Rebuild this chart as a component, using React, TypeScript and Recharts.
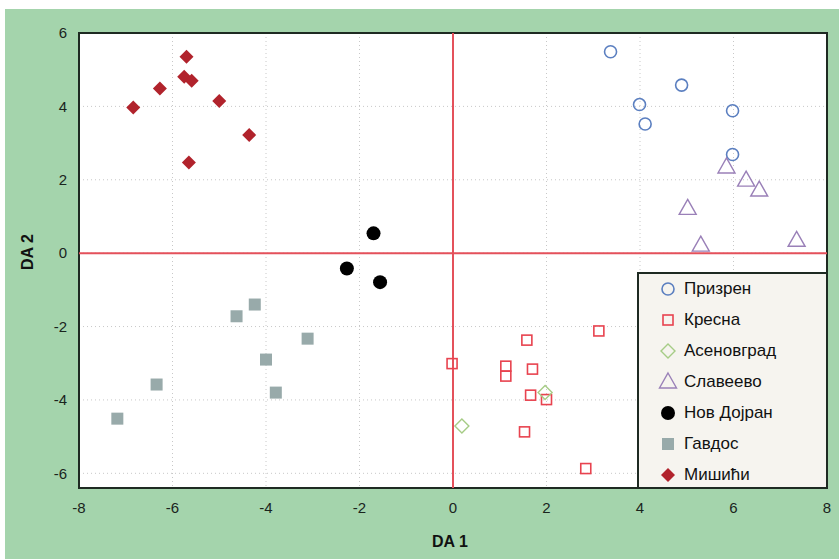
import React from 'react';
import {
  CartesianGrid,
  ReferenceArea,
  ReferenceLine,
  Scatter,
  ScatterChart,
  XAxis,
  YAxis,
} from 'recharts';

const xTicks = [-8, -6, -4, -2, 0, 2, 4, 6, 8];
const yTicks = [-6, -4, -2, 0, 2, 4, 6];

const prizren = [
  { x: 3.37, y: 5.49 },
  { x: 4.89, y: 4.58 },
  { x: 3.99, y: 4.05 },
  { x: 4.11, y: 3.52 },
  { x: 5.98, y: 3.88 },
  { x: 5.98, y: 2.69 },
];

const kresna = [
  { x: 3.12, y: -2.12 },
  { x: 1.58, y: -2.37 },
  { x: -0.02, y: -3.01 },
  { x: 1.13, y: -3.08 },
  { x: 1.13, y: -3.35 },
  { x: 1.7, y: -3.16 },
  { x: 1.66, y: -3.87 },
  { x: 2.0, y: -3.99 },
  { x: 1.53, y: -4.87 },
  { x: 2.84, y: -5.87 },
];

const asenovgrad = [
  { x: 1.97, y: -3.8 },
  { x: 0.19, y: -4.71 },
];

const slaveevo = [
  { x: 5.85, y: 2.35 },
  { x: 6.27, y: 1.99 },
  { x: 6.55, y: 1.72 },
  { x: 5.02, y: 1.22 },
  { x: 5.3, y: 0.22 },
  { x: 7.35, y: 0.35 },
];

const novDojran = [
  { x: -1.7, y: 0.54 },
  { x: -2.27, y: -0.42 },
  { x: -1.56, y: -0.79 },
];

const gavdos = [
  { x: -4.24, y: -1.4 },
  { x: -4.63, y: -1.72 },
  { x: -3.11, y: -2.33 },
  { x: -4.0, y: -2.9 },
  { x: -6.34, y: -3.58 },
  { x: -3.79, y: -3.8 },
  { x: -7.18, y: -4.51 },
];

const misici = [
  { x: -6.84, y: 3.97 },
  { x: -6.27, y: 4.49 },
  { x: -5.7, y: 5.35 },
  { x: -5.75, y: 4.81 },
  { x: -5.59, y: 4.7 },
  { x: -5.0, y: 4.15 },
  { x: -4.36, y: 3.22 },
  { x: -5.65, y: 2.47 },
];

type Kind = 'circle' | 'square' | 'diamond' | 'triangle' | 'dot' | 'block' | 'gem';

function mark(kind: Kind, color: string, cx: number, cy: number) {
  switch (kind) {
    case 'circle':
      return <circle cx={cx} cy={cy} r={6} fill="none" stroke={color} strokeWidth={1.6} />;
    case 'square':
      return <rect x={cx - 5} y={cy - 5} width={10} height={10} fill="none" stroke={color} strokeWidth={1.6} />;
    case 'diamond':
      return (
        <path d={`M${cx},${cy - 7}L${cx + 7},${cy}L${cx},${cy + 7}L${cx - 7},${cy}Z`} fill="none" stroke={color} strokeWidth={1.4} />
      );
    case 'triangle':
      return (
        <path d={`M${cx},${cy - 9}L${cx + 8.5},${cy + 6}L${cx - 8.5},${cy + 6}Z`} fill="none" stroke={color} strokeWidth={1.4} />
      );
    case 'dot':
      return <circle cx={cx} cy={cy} r={7} fill={color} />;
    case 'block':
      return <rect x={cx - 6} y={cy - 6} width={12} height={12} fill={color} />;
    case 'gem':
      return <path d={`M${cx},${cy - 7}L${cx + 7},${cy}L${cx},${cy + 7}L${cx - 7},${cy}Z`} fill={color} />;
  }
}

const groups: { name: string; data: { x: number; y: number }[]; kind: Kind; color: string }[] = [
  { name: 'Призрен', data: prizren, kind: 'circle', color: '#5b7fc0' },
  { name: 'Кресна', data: kresna, kind: 'square', color: '#e8434f' },
  { name: 'Асеновград', data: asenovgrad, kind: 'diamond', color: '#a6cc86' },
  { name: 'Славеево', data: slaveevo, kind: 'triangle', color: '#9a80b8' },
  { name: 'Нов Дојран', data: novDojran, kind: 'dot', color: '#000000' },
  { name: 'Гавдос', data: gavdos, kind: 'block', color: '#98aaaa' },
  { name: 'Мишићи', data: misici, kind: 'gem', color: '#b1232c' },
];

const font = '"Liberation Sans", Arial, sans-serif';

export default function App() {
  return (
    <div style={{ position: 'absolute', left: 0, top: 0, width: 839, height: 559, background: '#fff', fontFamily: font }}>
      <div style={{ position: 'absolute', left: 5, top: 9, width: 834, height: 550, background: '#a4d4ac' }} />
      <div style={{ position: 'absolute', left: 0, top: 0 }}>
        <ScatterChart width={839} height={559} margin={{ top: 33, right: 12, bottom: 41, left: 19 }}>
          <CartesianGrid fill="#ffffff" stroke="#c8c8c8" strokeDasharray="1 3" />
          <XAxis
            type="number"
            dataKey="x"
            domain={[-8, 8]}
            ticks={xTicks}
            height={30}
            axisLine={false}
            tickLine={false}
            tickSize={6}
            tickMargin={8}
            tick={{ fill: '#1a241d', fontSize: 15, fontFamily: font }}
          />
          <YAxis
            type="number"
            dataKey="y"
            domain={[-6.4, 6]}
            ticks={yTicks}
            width={60}
            axisLine={false}
            tickLine={false}
            tickSize={6}
            tickMargin={6}
            tick={{ fill: '#1a241d', fontSize: 15, fontFamily: font }}
          />
          <ReferenceLine x={0} stroke="#e4515b" strokeWidth={2} />
          <ReferenceLine y={0} stroke="#e4515b" strokeWidth={2} />
          {groups.map((g) => (
            <Scatter
              key={g.name}
              name={g.name}
              data={g.data}
              isAnimationActive={false}
              shape={(p: any) => mark(g.kind, g.color, p.cx, p.cy)}
            />
          ))}
          <ReferenceArea x1={-8} x2={8} y1={-6.4} y2={6} fill="none" stroke="#1e2a22" strokeWidth={2} ifOverflow="visible" />
        </ScatterChart>
      </div>
      <div
        style={{
          position: 'absolute',
          left: 637,
          top: 272,
          width: 189,
          height: 215,
          background: '#f6f4ef',
          borderTop: '2px solid #1e2a22',
          borderLeft: '2px solid #1e2a22',
          boxSizing: 'border-box',
        }}
      >
        {groups.map((g, i) => (
          <div key={g.name} style={{ position: 'absolute', left: 0, top: 4 + i * 31, height: 22, display: 'flex', alignItems: 'center' }}>
            <svg width={44} height={22} style={{ display: 'block' }}>
              {mark(g.kind, g.color, 29, 11)}
            </svg>
            <span style={{ fontSize: 17, color: '#111', marginLeft: 1 }}>{g.name}</span>
          </div>
        ))}
      </div>
      <div style={{ position: 'absolute', left: 432, top: 533, fontSize: 16, fontWeight: 700, color: '#111' }}>DA 1</div>
      <div
        style={{
          position: 'absolute',
          left: 28,
          top: 252,
          fontSize: 16,
          fontWeight: 700,
          color: '#111',
          transform: 'translate(-50%, -50%) rotate(-90deg)',
          whiteSpace: 'nowrap',
        }}
      >
        DA 2
      </div>
    </div>
  );
}
